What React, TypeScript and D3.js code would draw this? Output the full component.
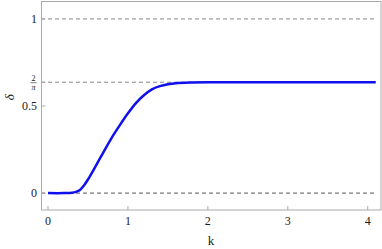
import { useEffect, useRef } from 'react';
import * as d3 from 'd3';

// curve
const kValues = [0, 0.2, 0.3, 0.35, 0.4, 0.45, 0.5, 0.6, 0.7, 0.8, 0.9, 1.0, 1.1, 1.2, 1.3, 1.4, 1.5, 1.6, 1.8, 2.0, 2.5, 3.0, 3.5, 4.1];
const deltaValues = [0, 0, 0.002, 0.007, 0.018, 0.044, 0.078, 0.158, 0.24, 0.32, 0.391, 0.458, 0.517, 0.562, 0.596, 0.614, 0.625, 0.631, 0.635, 0.6366, 0.6366, 0.6366, 0.6366, 0.6366];
const xTicks = [0, 1, 2, 3, 4];
const yTicks = [0, 0.5, 1];
const refLines = [0, 2 / Math.PI, 1];

export default function App() {
    const ref = useRef<SVGSVGElement>(null);

    useEffect(() => {
        const width = 382;
        const height = 249;
        const svg = d3.select(ref.current);
        svg.selectAll('*').remove();

        const x = d3.scaleLinear().domain([-0.0875, 4.166]).range([41, 381]);
        const y = d3.scaleLinear().domain([-0.097, 1.1]).range([210, 1.5]);
        const font = 'Liberation Serif, Times New Roman, serif';

        // dashed reference lines
        svg.append('g')
            .selectAll('line')
            .data(refLines)
            .join('line')
            .attr('x1', x(-0.0875))
            .attr('x2', x(4.08))
            .attr('y1', d => y(d))
            .attr('y2', d => y(d))
            .attr('stroke', (d, i) => (i === 0 ? '#555' : '#888'))
            .attr('stroke-width', 1)
            .attr('stroke-dasharray', '4,3');

        // frame
        svg.append('rect')
            .attr('x', 41.5)
            .attr('y', 1.5)
            .attr('width', 339.5)
            .attr('height', 208.5)
            .attr('fill', 'none')
            .attr('stroke', '#aaa')
            .attr('stroke-width', 1);

        // x ticks
        const xg = svg.append('g');
        xg.selectAll('line')
            .data(xTicks)
            .join('line')
            .attr('x1', d => x(d))
            .attr('x2', d => x(d))
            .attr('y1', 210)
            .attr('y2', 206)
            .attr('stroke', '#aaa');
        xg.selectAll('text')
            .data(xTicks)
            .join('text')
            .attr('x', d => x(d))
            .attr('y', 225)
            .attr('text-anchor', 'middle')
            .attr('font-family', font)
            .attr('font-size', 12)
            .attr('fill', '#222')
            .text(d => d);

        // y ticks
        const yg = svg.append('g');
        yg.selectAll('line')
            .data([...yTicks, 2 / Math.PI])
            .join('line')
            .attr('x1', 41.5)
            .attr('x2', 45.5)
            .attr('y1', d => y(d))
            .attr('y2', d => y(d))
            .attr('stroke', '#aaa');
        yg.selectAll('text')
            .data(yTicks)
            .join('text')
            .attr('x', 37)
            .attr('y', d => y(d) + 4)
            .attr('text-anchor', 'end')
            .attr('font-family', font)
            .attr('font-size', 12)
            .attr('fill', '#222')
            .text(d => d);

        // 2/pi fraction label
        const fy = y(2 / Math.PI);
        const frac = svg.append('g').attr('font-family', font).attr('fill', '#222').attr('font-size', 8);
        frac.append('text').attr('x', 33.5).attr('y', fy - 1.5).attr('text-anchor', 'middle').text('2');
        frac.append('line')
            .attr('x1', 30.5).attr('x2', 36.5)
            .attr('y1', fy + 0.5).attr('y2', fy + 0.5)
            .attr('stroke', '#222').attr('stroke-width', 0.6);
        frac.append('text').attr('x', 33.5).attr('y', fy + 7.5).attr('text-anchor', 'middle').attr('font-style', 'italic').text('π');

        // axis titles
        svg.append('text')
            .attr('x', 211)
            .attr('y', 245)
            .attr('text-anchor', 'middle')
            .attr('font-family', font)
            .attr('font-size', 13)
            .attr('fill', '#222')
            .text('k');
        svg.append('text')
            .attr('transform', `translate(14,${y(0.55)}) rotate(-90)`)
            .attr('text-anchor', 'middle')
            .attr('font-family', font)
            .attr('font-size', 13)
            .attr('font-style', 'italic')
            .attr('fill', '#222')
            .text('δ');

        // curve
        const line = d3.line<number>()
            .x((_, i) => x(kValues[i]))
            .y(d => y(d))
            .curve(d3.curveCatmullRom.alpha(0.5));
        svg.append('path')
            .datum(deltaValues)
            .attr('fill', 'none')
            .attr('stroke', '#1010ee')
            .attr('stroke-width', 2.5)
            .attr('d', line);

        svg.attr('width', width).attr('height', height);
    }, []);

    return <svg ref={ref} style={{ position: 'absolute', left: 0, top: 0 }} />;
}
